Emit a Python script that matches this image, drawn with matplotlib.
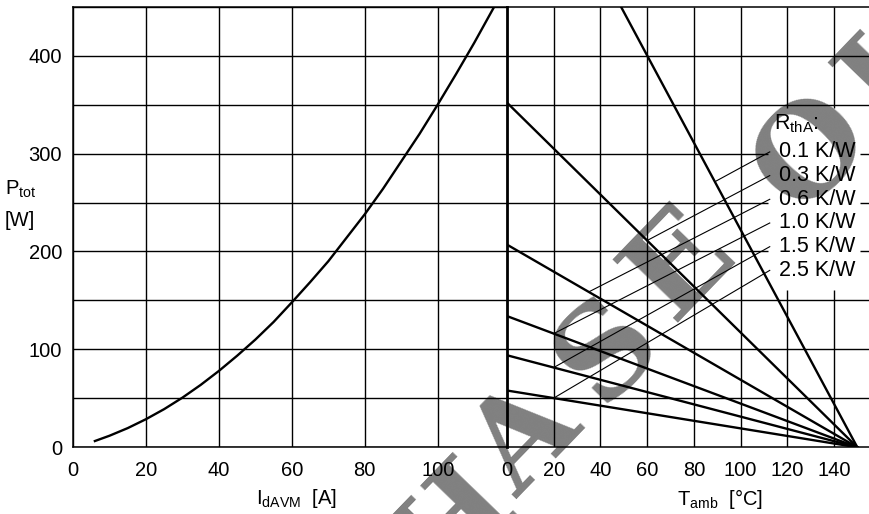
import matplotlib
matplotlib.use('Agg')
import matplotlib.pyplot as plt

plt.rcParams['font.family'] = ['Liberation Sans', 'DejaVu Sans']
plt.rcParams['mathtext.fontset'] = 'custom'
plt.rcParams['mathtext.rm'] = 'Liberation Sans'

# left panel: total power loss vs average forward current
i_davm = [6, 10, 15, 20, 25, 30, 35, 40, 45, 50, 55, 60, 65, 70, 75, 80,
          85, 90, 95, 100, 105, 110, 115.5]
p_tot = [6.4, 11.8, 19.6, 28.7, 39, 50.7, 63.7, 78, 93.5, 110, 128, 148,
         168.6, 190, 214, 238, 264, 292, 320, 350, 381, 413, 450]

# right panel: P_tot vs T_amb for several heatsink resistances
r_tha = ['0.1', '0.3', '0.6', '1.0', '1.5', '2.5']
p_at_0c = [667, 352, 207, 134, 94, 58]   # W at T_amb = 0
t_zero = 150                               # all lines meet at 150 degC
leader_t = [89, 60, 35, 20, 20, 20]        # where the label leaders touch

x1_ticks = [0, 20, 40, 60, 80, 100]
x2_ticks = [0, 20, 40, 60, 80, 100, 120, 140]
y_grid = [0, 50, 100, 150, 200, 250, 300, 350, 400, 450]
y_labels = [0, 100, 200, 300, 400]

W, H = 869, 514
fig = plt.figure(figsize=(W / 100, H / 100), dpi=100)
ax2 = fig.add_axes([507 / W, 66.7 / H, 362 / W, 440.6 / H])
ax1 = fig.add_axes([73 / W, 66.7 / H, 434 / W, 440.6 / H])
ax1.set_zorder(1)
ax1.patch.set_visible(False)

fs = 14.5

# ---- left panel
ax1.plot(i_davm, p_tot, color='black', lw=1.7, zorder=3)
ax1.set_xlim(0, 119)
ax1.set_ylim(0, 450)
ax1.set_xticks(x1_ticks)
ax1.set_yticks(y_grid)
ax1.set_yticklabels([str(v) if v in y_labels else '' for v in y_grid])
ax1.tick_params(length=0, labelsize=fs)
ax1.tick_params(axis='x', pad=10)
ax1.tick_params(axis='y', pad=8)
ax1.grid(True, color='black', lw=1.0)
for s in ['left', 'top', 'bottom']:
    ax1.spines[s].set_linewidth(1.1)
ax1.spines['right'].set_linewidth(2.0)

# ---- right panel
ax2.set_xlim(0, 155)
ax2.set_ylim(0, 450)
ax2.set_xticks(x2_ticks)
ax2.set_yticks([])
ax2.tick_params(length=0, labelsize=fs, pad=10)
ax2.spines['left'].set_visible(False)
ax2.spines['right'].set_visible(False)
ax2.spines['top'].set_linewidth(1.1)
ax2.spines['bottom'].set_linewidth(1.1)

# grid by hand, left open behind the R_thA labels
gap_t = (111.7, 151)
gap_p = (161, 346.7)
for t in x2_ticks[1:]:
    if gap_t[0] < t < gap_t[1]:
        ax2.vlines(t, 0, gap_p[0], color='black', lw=1.0, zorder=1.5)
        ax2.vlines(t, gap_p[1], 450, color='black', lw=1.0, zorder=1.5)
    else:
        ax2.vlines(t, 0, 450, color='black', lw=1.0, zorder=1.5)
for p in y_grid[1:-1]:
    if gap_p[0] < p < gap_p[1]:
        ax2.hlines(p, 0, gap_t[0], color='black', lw=1.0, zorder=1.5)
        ax2.hlines(p, gap_t[1], 155, color='black', lw=1.0, zorder=1.5)
    else:
        ax2.hlines(p, 0, 155, color='black', lw=1.0, zorder=1.5)

label_p0, label_dp = 301.7, 24.2
for k, (r, p0) in enumerate(zip(r_tha, p_at_0c)):
    ax2.plot([0, t_zero], [p0, 0], color='black', lw=1.7, zorder=3)
    lp = label_p0 - k * label_dp
    tt = leader_t[k]
    ax2.plot([tt, 112.5], [p0 * (t_zero - tt) / t_zero, lp],
             color='black', lw=0.8, zorder=3)
    ax2.text(116.4, lp, r + ' K/W', ha='left', va='center', fontsize=15.5,
             zorder=4)
ax2.text(114.3, 331, r'$\mathregular{R_{thA}}$:', ha='left', va='center',
         fontsize=15.5, zorder=4)

# watermark, under the grid (only the letters that reach the picture)
wm_letters = ['H', 'A', 'S', 'E', 'O', 'U']
wm_x = [454, 527, 608, 680, 812, 902]
wm_y = [526, 440, 350, 265, 152, 62]
for ch, cx, cy in zip(wm_letters, wm_x, wm_y):
    ax2.text(cx / W, 1 - cy / H, ch, transform=fig.transFigure,
             family='DejaVu Serif', weight='bold', fontsize=90,
             color='#808080', rotation=46, rotation_mode='anchor',
             ha='center', va='center', clip_on=False, zorder=1.2)

# axis titles
fig.text(5 / W, 1 - 189 / H, r'$\mathregular{P_{tot}}$', fontsize=fs,
         ha='left', va='center')
fig.text(5 / W, 1 - 221 / H, '[W]', fontsize=fs, ha='left', va='center')
fig.text(297 / W, 1 - 499 / H, r'$\mathregular{I_{dAVM}}$  [A]',
         fontsize=fs, ha='center', va='center')
fig.text(720 / W, 1 - 499 / H, r'$\mathregular{T_{amb}}$  [°C]',
         fontsize=fs, ha='center', va='center')

fig.savefig('out.png', dpi=100)
